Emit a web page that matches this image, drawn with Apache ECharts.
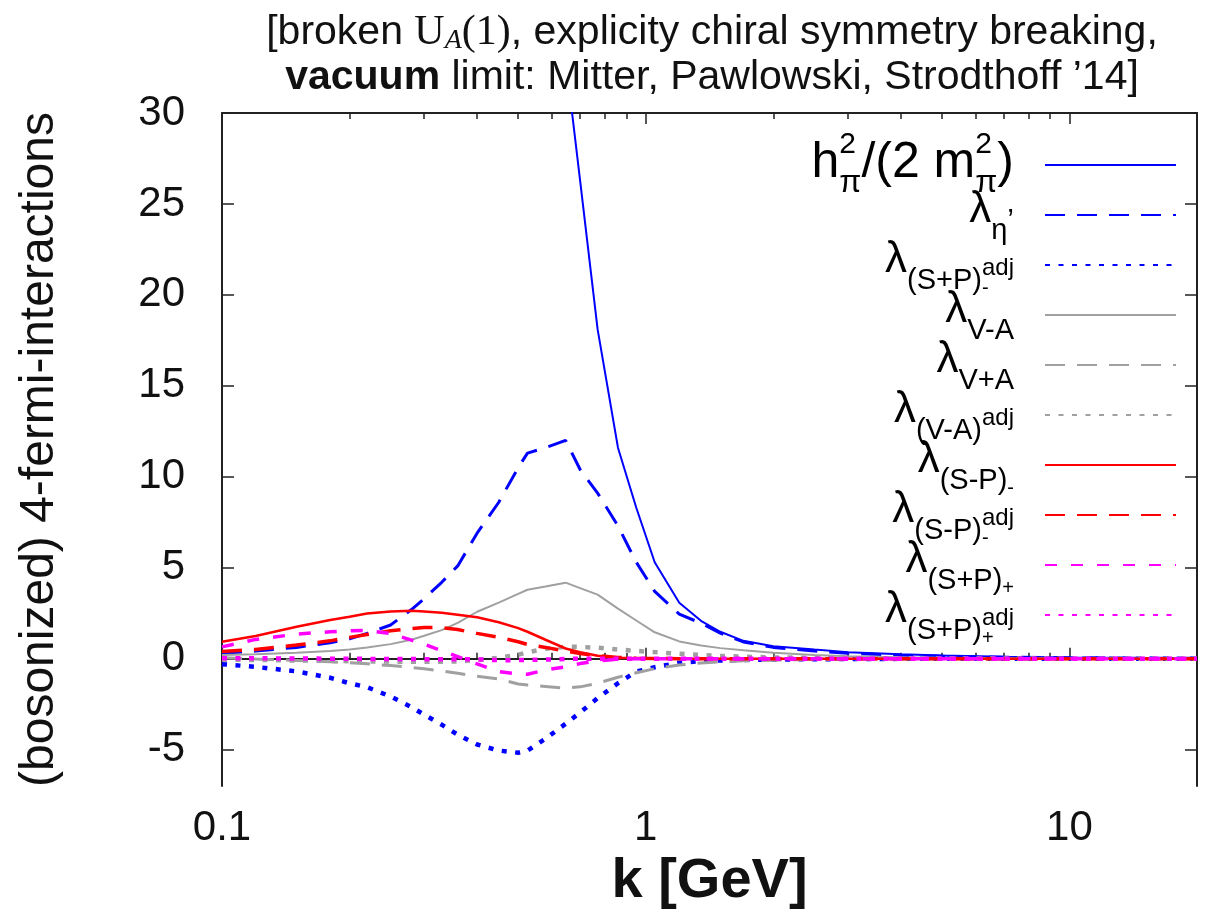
<!DOCTYPE html>
<html>
<head>
<meta charset="utf-8">
<title>4-fermi-interactions</title>
<script src="https://cdn.jsdelivr.net/npm/echarts@6/dist/echarts.min.js"></script>
<style>
html, body { margin: 0; padding: 0; background: #fff; }
#chart { width: 1212px; height: 915px; }
</style>
</head>
<body>
<div id="chart"></div>
<script>
// k grid [GeV] shared by all curves
const kValues = [0.1, 0.12, 0.15, 0.18, 0.2, 0.22, 0.25, 0.28, 0.3, 0.33, 0.36, 0.4, 0.45, 0.5, 0.526, 0.58, 0.647, 0.7, 0.77, 0.86, 0.95, 1.05, 1.2, 1.35, 1.5, 1.7, 2, 2.5, 3, 4, 5, 7, 10, 14, 20];

const hPi      = [420, 410, 395, 375, 360, 345, 320, 290, 270, 235, 200, 160, 115, 80, 62, 45, 33, 26.3, 18.1, 11.6, 8.3, 5.3, 3.07, 2.08, 1.48, 0.98, 0.68, 0.5, 0.36, 0.24, 0.17, 0.1, 0.06, 0.04, 0.03];
const lamEta   = [0.3, 0.42, 0.62, 0.88, 1.09, 1.39, 1.85, 2.7, 3.3, 4.2, 5.1, 6.9, 8.6, 10.5, 11.3, 11.6, 12.0, 10.4, 9.1, 7.3, 5.3, 3.7, 2.45, 1.95, 1.4, 0.92, 0.62, 0.42, 0.3, 0.19, 0.13, 0.08, 0.05, 0.03, 0.02];
const lamSPmAdj = [-0.3, -0.45, -0.7, -1.05, -1.35, -1.57, -2.08, -2.66, -3.08, -3.63, -4.18, -4.72, -5.05, -5.17, -5.05, -4.4, -3.58, -2.96, -2.17, -1.35, -0.71, -0.47, -0.22, -0.14, -0.1, -0.07, -0.05, -0.03, -0.02, -0.01, -0.01, 0, 0, 0, 0];
const lamVmA   = [0.2, 0.25, 0.33, 0.42, 0.51, 0.62, 0.8, 1.04, 1.26, 1.57, 1.97, 2.58, 3.08, 3.56, 3.79, 3.97, 4.18, 3.88, 3.52, 2.75, 2.1, 1.45, 0.95, 0.72, 0.58, 0.46, 0.32, 0.2, 0.14, 0.08, 0.05, 0.03, 0.02, 0.01, 0.01];
const lamVpA   = [0.05, -0.02, -0.1, -0.17, -0.22, -0.28, -0.38, -0.48, -0.56, -0.67, -0.8, -0.97, -1.11, -1.39, -1.45, -1.53, -1.62, -1.55, -1.35, -1.02, -0.77, -0.55, -0.35, -0.24, -0.17, -0.12, -0.08, -0.05, -0.03, -0.02, -0.01, 0, 0, 0, 0];
const lamVmAAdj = [-0.05, -0.07, -0.1, -0.12, -0.14, -0.15, -0.16, -0.17, -0.17, -0.17, -0.15, -0.08, 0.05, 0.22, 0.35, 0.55, 0.66, 0.65, 0.6, 0.5, 0.43, 0.36, 0.27, 0.2, 0.15, 0.11, 0.07, 0.05, 0.03, 0.02, 0.01, 0.01, 0, 0, 0];
const lamSPm   = [0.93, 1.25, 1.75, 2.13, 2.3, 2.48, 2.59, 2.63, 2.6, 2.53, 2.42, 2.28, 2.0, 1.68, 1.48, 1.04, 0.56, 0.35, 0.16, 0.05, 0.02, 0.01, 0, 0, 0, 0, 0, 0, 0, 0, 0, 0, 0, 0, 0];
const lamSPmAdjR = [0.4, 0.51, 0.75, 0.98, 1.17, 1.33, 1.53, 1.66, 1.71, 1.71, 1.6, 1.39, 1.17, 0.93, 0.78, 0.62, 0.42, 0.29, 0.16, 0.07, 0.03, 0.01, 0, 0, 0, 0, 0, 0, 0, 0, 0, 0, 0, 0, 0];
const lamSPp   = [0.65, 1.06, 1.35, 1.48, 1.53, 1.55, 1.39, 1.02, 0.8, 0.44, 0.11, -0.29, -0.71, -0.84, -0.86, -0.62, -0.45, -0.27, -0.12, -0.03, -0.01, 0, 0, 0, 0, 0, 0, 0, 0, 0, 0, 0, 0, 0, 0];
const lamSPpAdj = [0.02, 0.02, 0.01, 0.0, 0.0, -0.01, -0.02, -0.02, -0.03, -0.03, -0.03, -0.04, -0.08, -0.08, -0.07, -0.05, -0.02, 0, 0, 0, 0, 0, 0, 0, 0, 0, 0, 0, 0, 0, 0, 0, 0, 0, 0];

// ticks
const xMajorTicks = [0.1, 1, 10];
const xMinorTicks = [0.2, 0.3, 0.4, 0.5, 0.6, 0.7, 0.8, 0.9, 2, 3, 4, 5, 6, 7, 8, 9];
const yTicks = [-5, 0, 5, 10, 15, 20, 25, 30];

// legend labels (rich text)
const legendLabels = {
  hpi: '{h|h}{hp|2}{hs|\u03c0}{h|/(2 m}{hp|2}{hs|\u03c0}{h|)}{gp| }',
  eta: '{l|\u03bb}{s|\u03b7}{pr|\u2019}{gp| }',
  spmadj: '{l|\u03bb}{s|(S+P)}{ss0|-}{sup|adj}{gp| }',
  vma: '{l|\u03bb}{s|V-A}{gp| }',
  vpa: '{l|\u03bb}{s|V+A}{gp| }',
  vmaadj: '{l|\u03bb}{s|(V-A)}{sup|adj}{gp| }',
  spm: '{l|\u03bb}{s|(S-P)}{ss|-}{gp| }',
  spmadjr: '{l|\u03bb}{s|(S-P)}{ss0|-}{sup|adj}{gp| }',
  spp: '{l|\u03bb}{s|(S+P)}{ss|+}{gp| }',
  sppadj: '{l|\u03bb}{s|(S+P)}{ss0|+}{sup|adj}{gp| }'
};

const FONT = '"Liberation Sans", Arial, Helvetica, sans-serif';
const SERIF = '"Liberation Serif", "DejaVu Serif", serif';
const BLUE = '#0000ff', GRAY = '#a0a0a0', RED = '#ff0000', MAG = '#ff00ff';
const DASH = [20, 12], DOT = [5, 8.5], SDASH = [12, 14];
const BOX = 70; // height of one legend text line box

function pairs(vals) {
  return kValues.map((k, i) => [k, vals[i]]);
}

function mk(name, vals, color, type, width) {
  return {
    name: name,
    type: 'line',
    xAxisIndex: 0,
    yAxisIndex: 0,
    data: pairs(vals),
    symbol: 'none',
    lineStyle: { color: color, width: width, type: type, cap: 'butt' },
    itemStyle: { color: color },
    clip: true,
    animation: false
  };
}

// rich token: every piece fills the same box, moved up/down by its top padding
function tok(size, padTop, extra) {
  return Object.assign({
    fontFamily: FONT, fontSize: size, color: '#000',
    align: 'left', verticalAlign: 'top',
    height: size, lineHeight: BOX,
    padding: [padTop, 0, BOX - padTop - size, 0]
  }, extra || {});
}

var myChart = echarts.init(document.getElementById('chart'));

const axisLineStyle = { color: '#222', width: 2 };
const tickStyle = { color: '#222', width: 1.5 };

var option = {
  backgroundColor: '#fff',
  animation: false,
  title: {
    text: '{n|[broken }{u|U}{us|A}{u|(1)}{n|, explicity chiral symmetry breaking,}\n{b|vacuum}{n| limit: Mitter, Pawlowski, Strodthoff \u201914]}',
    left: 712,
    top: 10,
    textAlign: 'center',
    padding: 0,
    textStyle: {
      fontWeight: 'normal',
      rich: {
        n: { fontFamily: FONT, fontSize: 41, fontWeight: 'normal', color: '#111', lineHeight: 45 },
        b: { fontFamily: FONT, fontSize: 41, fontWeight: 'bold', color: '#111', lineHeight: 45 },
        u: { fontFamily: SERIF, fontSize: 42, fontWeight: 'normal', color: '#111', lineHeight: 45 },
        us: { fontFamily: SERIF, fontStyle: 'italic', fontWeight: 'normal', fontSize: 28, color: '#111', verticalAlign: 'bottom', lineHeight: 30 }
      }
    }
  },
  legend: {
    orient: 'vertical',
    right: 35,
    top: 130,
    padding: 0,
    itemGap: -20,
    itemWidth: 131,
    itemHeight: 14,
    align: 'right',
    selectedMode: false,
    itemStyle: { opacity: 0 },
    data: Object.keys(legendLabels),
    formatter: function (name) { return legendLabels[name]; },
    textStyle: {
      color: '#000',
      rich: {
        l: tok(44, 8),
        s: tok(29, 36),
        ss: tok(20, 48),
        ss0: tok(20, 48, { width: 0 }),
        sup: tok(24, 26),
        pr: tok(30, 26),
        h: tok(50, 8),
        hp: tok(30, 0, { width: 0 }),
        hs: tok(32, 37),
        gp: tok(10, 0, { width: 26 })
      }
    }
  },
  grid: {
    left: 222,
    right: 15,
    top: 113,
    bottom: 125,
    containLabel: false
  },
  xAxis: [
    {
      type: 'log',
      logBase: 10,
      min: 0.1,
      max: 20,
      position: 'bottom',
      name: 'k [GeV]',
      nameLocation: 'middle',
      nameGap: 68,
      nameTextStyle: { fontFamily: FONT, fontSize: 56, fontWeight: 'bold', color: '#111' },
      axisLine: { show: true, lineStyle: axisLineStyle },
      axisTick: { show: true, inside: true, length: 11, customValues: xMajorTicks, lineStyle: tickStyle },
      axisLabel: { show: true, customValues: xMajorTicks, formatter: function (v) { return String(v); }, fontFamily: FONT, fontSize: 42, color: '#111', margin: 21 },
      splitLine: { show: false }
    },
    {
      type: 'log', logBase: 10, min: 0.1, max: 20, position: 'bottom',
      axisLine: { show: false },
      axisTick: { show: true, inside: true, length: 6, customValues: xMinorTicks, lineStyle: tickStyle },
      axisLabel: { show: false },
      splitLine: { show: false }
    },
    {
      type: 'log', logBase: 10, min: 0.1, max: 20, position: 'top',
      axisLine: { show: true, lineStyle: axisLineStyle },
      axisTick: { show: true, inside: true, length: 11, customValues: xMajorTicks, lineStyle: tickStyle },
      axisLabel: { show: false },
      splitLine: { show: false }
    },
    {
      type: 'log', logBase: 10, min: 0.1, max: 20, position: 'top',
      axisLine: { show: false },
      axisTick: { show: true, inside: true, length: 6, customValues: xMinorTicks, lineStyle: tickStyle },
      axisLabel: { show: false },
      splitLine: { show: false }
    }
  ],
  yAxis: [
    {
      type: 'value',
      min: -7,
      max: 30,
      position: 'left',
      name: '(bosonized) 4-fermi-interactions',
      nameLocation: 'middle',
      nameGap: 158,
      nameTextStyle: { fontFamily: FONT, fontSize: 48, color: '#111' },
      axisLine: { show: true, lineStyle: axisLineStyle },
      axisTick: { show: true, inside: true, length: 12, customValues: yTicks, lineStyle: tickStyle },
      axisLabel: { show: true, customValues: yTicks, fontFamily: FONT, fontSize: 42, color: '#111', margin: 37 },
      splitLine: { show: false }
    },
    {
      type: 'value',
      min: -7,
      max: 30,
      position: 'right',
      axisLine: { show: true, lineStyle: axisLineStyle },
      axisTick: { show: true, inside: true, length: 12, customValues: yTicks, lineStyle: tickStyle },
      axisLabel: { show: false },
      splitLine: { show: false }
    }
  ],
  series: [
    mk('hpi', hPi, BLUE, 'solid', 2),
    mk('eta', lamEta, BLUE, DASH, 3),
    mk('spmadj', lamSPmAdj, BLUE, DOT, 4.5),
    mk('vma', lamVmA, GRAY, 'solid', 2),
    mk('vpa', lamVpA, GRAY, DASH, 3),
    mk('vmaadj', lamVmAAdj, GRAY, DOT, 4.5),
    mk('spm', lamSPm, RED, 'solid', 2.5),
    mk('spmadjr', lamSPmAdjR, RED, DASH, 3.5),
    mk('spp', lamSPp, MAG, SDASH, 3.5),
    mk('sppadj', lamSPpAdj, MAG, DOT, 4.5)
  ]
};

myChart.setOption(option);
</script>
</body>
</html>
